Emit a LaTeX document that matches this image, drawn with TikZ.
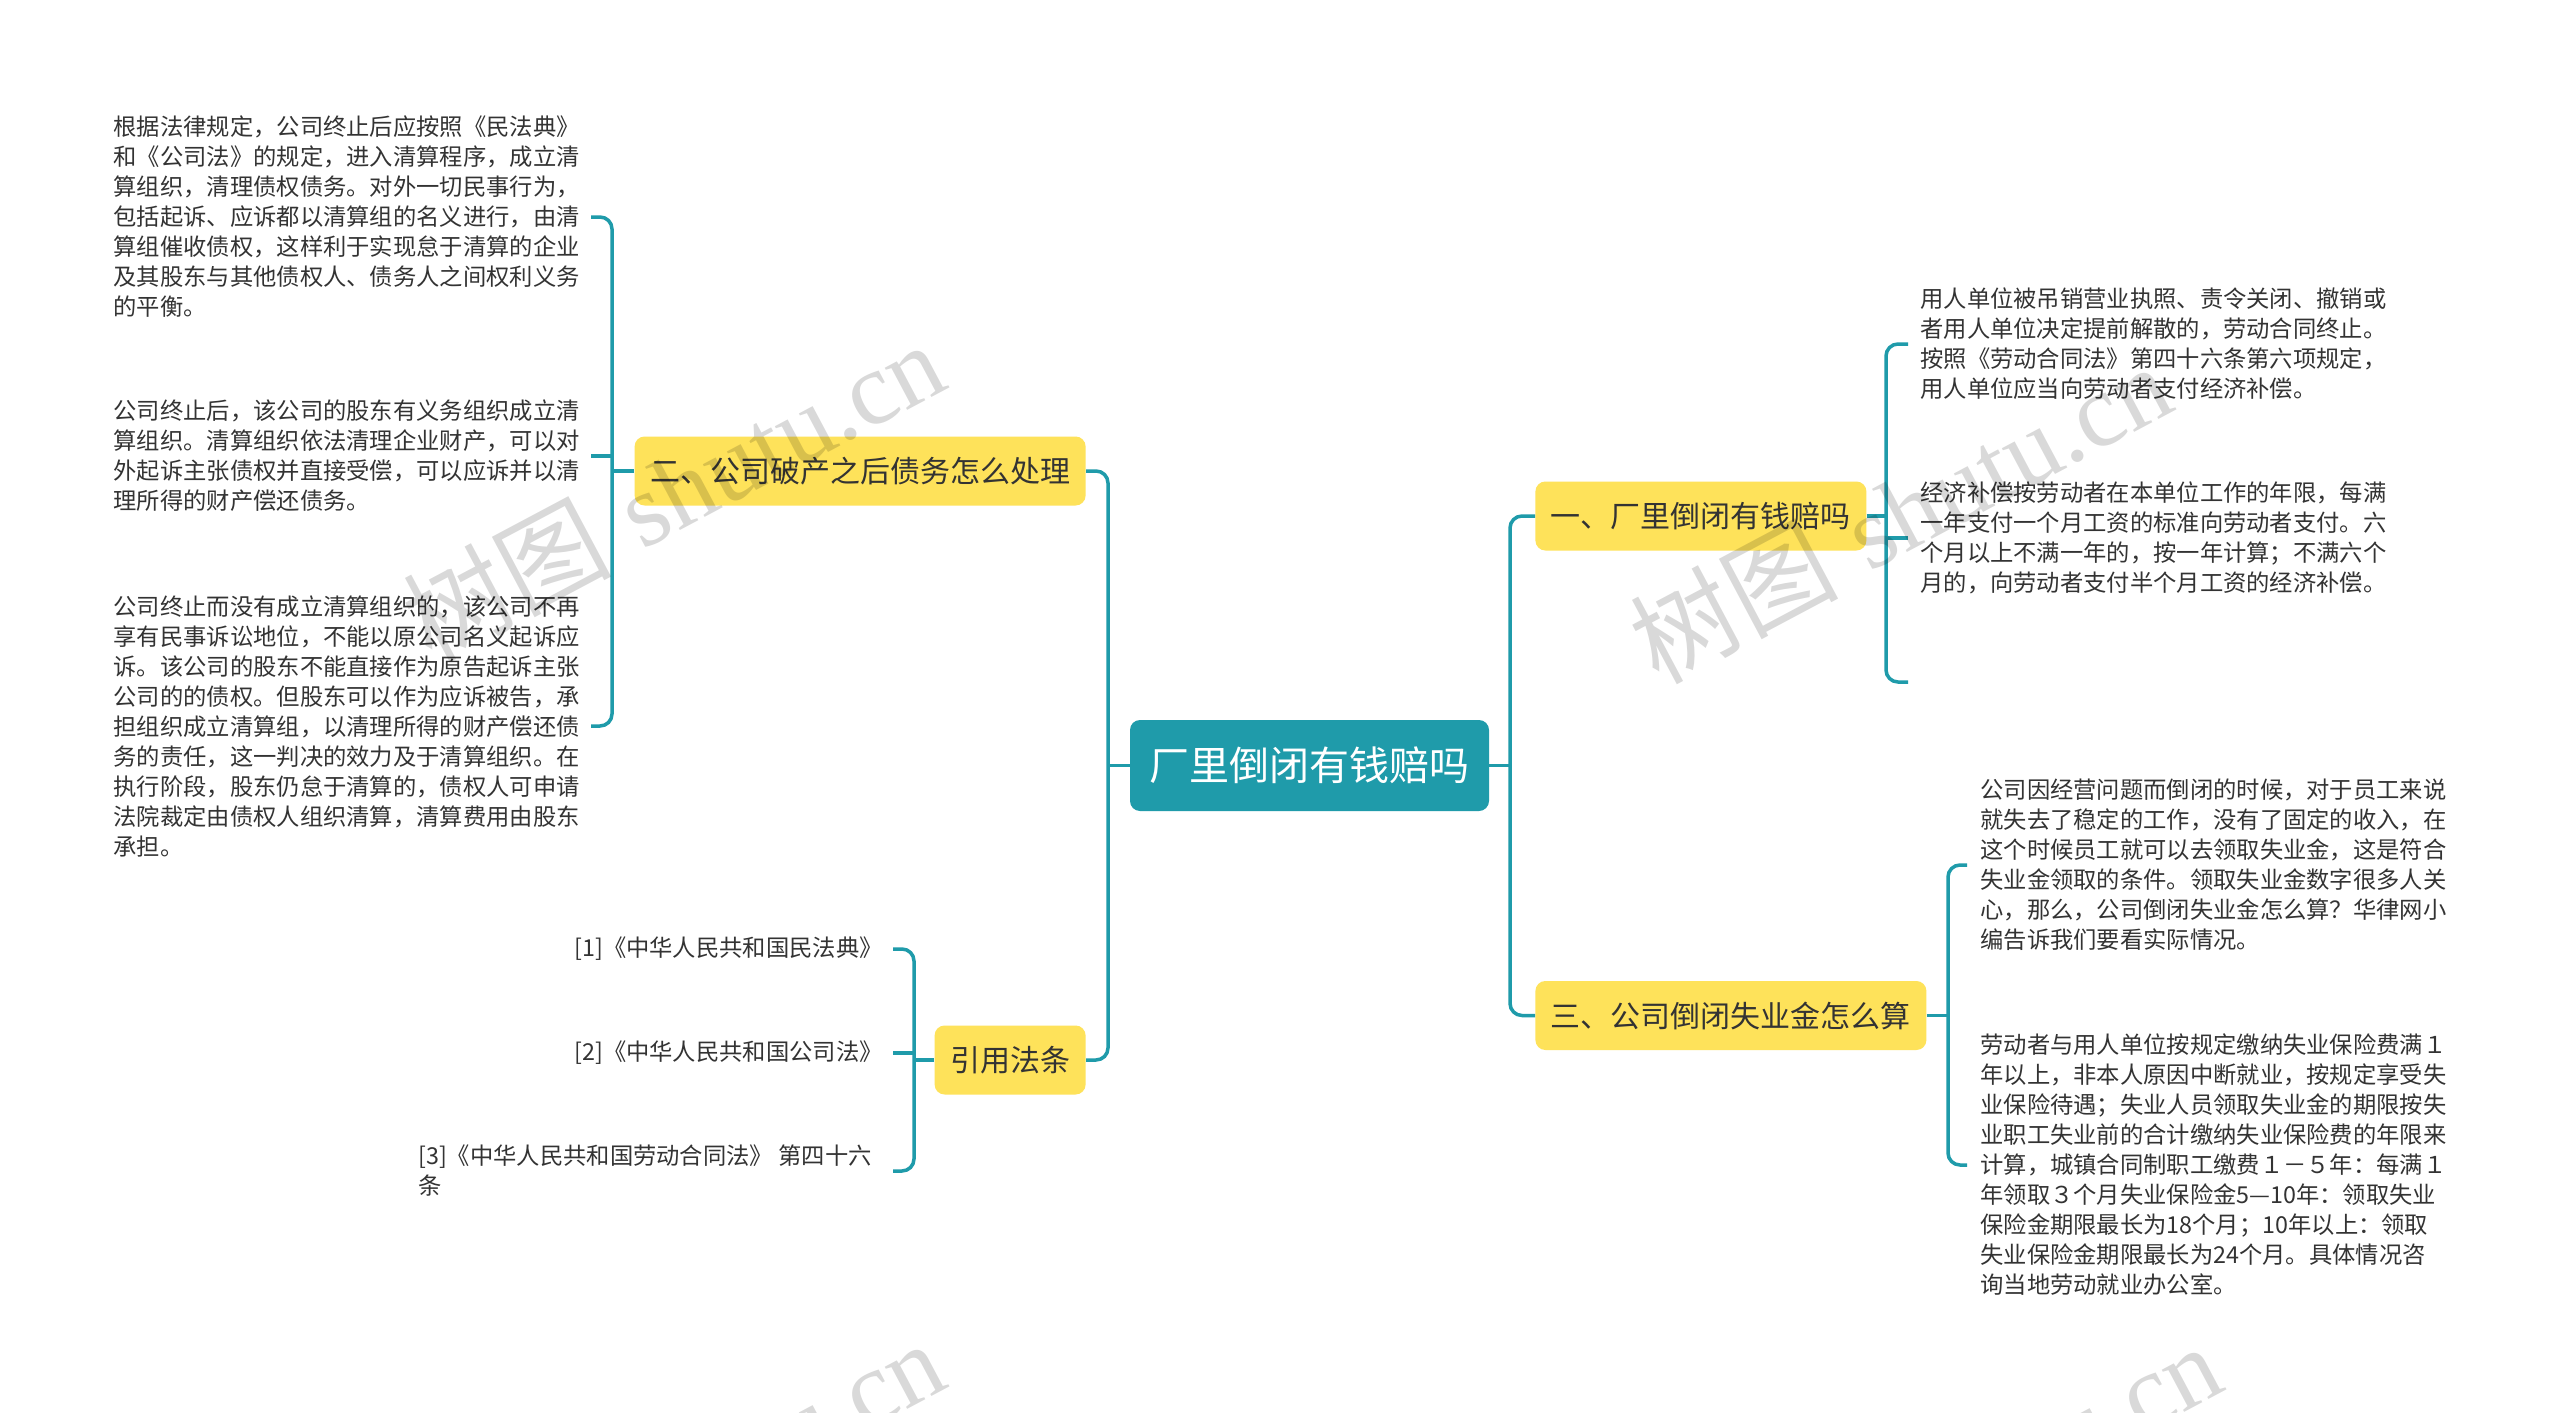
\documentclass[tikz,border=0pt]{standalone}
\usepackage{fontspec}
\newfontfamily\cjk{Noto Sans CJK SC}
\newfontfamily\wmserif{Liberation Serif}
\definecolor{teal1}{HTML}{1F9BAA}
\definecolor{yel}{HTML}{FEE25A}
\definecolor{txt}{HTML}{333333}
\tikzset{
  conn/.style={draw=teal1, line width=1.75pt, rounded corners=6pt},
  topic/.style={fill=yel, rounded corners=5pt, text=txt, font=\cjk\fontsize{15pt}{18pt}\selectfont, inner xsep=7.75pt, inner ysep=0pt, minimum height=34.5pt},
  rootbox/.style={fill=teal1, rounded corners=5pt, text=white, font=\cjk\fontsize{20pt}{24pt}\selectfont, inner xsep=9.75pt, inner ysep=0pt, minimum height=45.5pt},
  leaf/.style={text=txt, font=\cjk\fontsize{11.65pt}{15pt}\selectfont, align=left, inner ysep=0pt},
  wm/.style={rotate=28, text=black, text opacity=0.15, font=\fontsize{52pt}{60pt}\selectfont, inner sep=0pt}
}
\begin{document}
\begin{tikzpicture}[x=0.5pt,y=-0.5pt]
\useasboundingbox (0,0) rectangle (2560,1413);
\fill[white] (0,0) rectangle (2560,1413);

% trunk and bracket coordinates
\coordinate (tl) at (1108,0);
\coordinate (tr) at (1510,0);
\coordinate (b2) at (612,0);
\coordinate (b4) at (914,0);
\coordinate (b1) at (1886,0);
\coordinate (b3) at (1948,0);
\coordinate (e13) at (1908,682);

% main nodes
\node[rootbox] (c) at (1309.5,765.5) {厂里倒闭有钱赔吗};
\node[topic, anchor=east] (t2) at (1086,471) {二、公司破产之后债务怎么处理};
\node[topic, anchor=east] (t4) at (1086,1060) {引用法条};
\node[topic, anchor=west] (t1) at (1535,516) {一、厂里倒闭有钱赔吗};
\node[topic, anchor=west] (t3) at (1535,1015.5) {三、公司倒闭失业金怎么算};

% leaves of t2
\node[leaf, anchor=east, inner xsep=5.5pt] (l21) at (591,217) {根据法律规定，公司终止后应按照《民法典》\\和《公司法》的规定，进入清算程序，成立清\\算组织，清理债权债务。对外一切民事行为，\\包括起诉、应诉都以清算组的名义进行，由清\\算组催收债权，这样利于实现怠于清算的企业\\及其股东与其他债权人、债务人之间权利义务\\的平衡。};
\node[leaf, anchor=east, inner xsep=5.5pt] (l22) at (591,456) {公司终止后，该公司的股东有义务组织成立清\\算组织。清算组织依法清理企业财产，可以对\\外起诉主张债权并直接受偿，可以应诉并以清\\理所得的财产偿还债务。};
\node[leaf, anchor=east, inner xsep=5.5pt] (l23) at (591,726) {公司终止而没有成立清算组织的，该公司不再\\享有民事诉讼地位，不能以原公司名义起诉应\\诉。该公司的股东不能直接作为原告起诉主张\\公司的的债权。但股东可以作为应诉被告，承\\担组织成立清算组，以清理所得的财产偿还债\\务的责任，这一判决的效力及于清算组织。在\\执行阶段，股东仍怠于清算的，债权人可申请\\法院裁定由债权人组织清算，清算费用由股东\\承担。};

% leaves of t4
\node[leaf, anchor=east, inner xsep=5pt] (l41) at (893,949) {[1]《中华人民共和国民法典》};
\node[leaf, anchor=east, inner xsep=5pt] (l42) at (893,1053) {[2]《中华人民共和国公司法》};
\node[leaf, anchor=east, inner xsep=10.5pt] (l43) at (893,1171) {[3]《中华人民共和国劳动合同法》 第四十六\\条};

% leaves of t1
\node[leaf, anchor=west, inner xsep=6pt] (l11) at (1908,344) {用人单位被吊销营业执照、责令关闭、撤销或\\者用人单位决定提前解散的，劳动合同终止。\\按照《劳动合同法》第四十六条第六项规定，\\用人单位应当向劳动者支付经济补偿。};
\node[leaf, anchor=west, inner xsep=6pt] (l12) at (1908,538) {经济补偿按劳动者在本单位工作的年限，每满\\一年支付一个月工资的标准向劳动者支付。六\\个月以上不满一年的，按一年计算；不满六个\\月的，向劳动者支付半个月工资的经济补偿。};

% leaves of t3
\node[leaf, anchor=west, inner xsep=6.5pt] (l31) at (1967,865) {公司因经营问题而倒闭的时候，对于员工来说\\就失去了稳定的工作，没有了固定的收入，在\\这个时候员工就可以去领取失业金，这是符合\\失业金领取的条件。领取失业金数字很多人关\\心，那么，公司倒闭失业金怎么算？华律网小\\编告诉我们要看实际情况。};
\node[leaf, anchor=west, inner xsep=6.5pt] (l32) at (1967,1165) {劳动者与用人单位按规定缴纳失业保险费满１\\年以上，非本人原因中断就业，按规定享受失\\业保险待遇；失业人员领取失业金的期限按失\\业职工失业前的合计缴纳失业保险费的年限来\\计算，城镇合同制职工缴费１－５年：每满１\\年领取３个月失业保险金5—10年：领取失业\\保险金期限最长为18个月；10年以上：领取\\失业保险金期限最长为24个月。具体情况咨\\询当地劳动就业办公室。};

% connectors root -> topics
\draw[conn] (c.west) -- (c.west -| tl);
\draw[conn] (t2.east) -- (t2.east -| tl) -- (t4.east -| tl) -- (t4.east);
\draw[conn] (c.east) -- (c.east -| tr);
\draw[conn] (t1.west) -- (t1.west -| tr) -- (t3.west -| tr) -- (t3.west);

% t2 bracket
\draw[conn] (t2.west) -- (t2.west -| b2);
\draw[conn] (l21.east) -- (l21.east -| b2) -- (l23.east -| b2) -- (l23.east);
\draw[conn] (l22.east) -- (l22.east -| b2);

% t4 bracket
\draw[conn] (t4.west) -- (t4.west -| b4);
\draw[conn] (l41.east) -- (l41.east -| b4) -- (l43.east -| b4) -- (l43.east);
\draw[conn] (l42.east) -- (l42.east -| b4);

% t1 bracket
\draw[conn] (t1.east) -- (t1.east -| b1);
\draw[conn] (l11.west) -- (l11.west -| b1) -- (e13 -| b1) -- (e13);
\draw[conn] (l12.west) -- (l12.west -| b1);

% t3 bracket
\draw[conn] (t3.east) -- (t3.east -| b3);
\draw[conn] (l31.west) -- (l31.west -| b3) -- (l32.west -| b3) -- (l32.west);

% watermarks
\begin{scope}
\clip (0,0) rectangle (2560,1413);
\node[wm] (wm1) at (673,490) {{\cjk 树图} {\wmserif shutu.cn}};
\node[wm] (wm2) at (1900,512) {{\cjk 树图} {\wmserif shutu.cn}};
\node[wm] (wm3) at (673,1489) {{\cjk 树图} {\wmserif shutu.cn}};
\node[wm] (wm4) at (1950,1492) {{\cjk 树图} {\wmserif shutu.cn}};
\end{scope}
\end{tikzpicture}
\end{document}
